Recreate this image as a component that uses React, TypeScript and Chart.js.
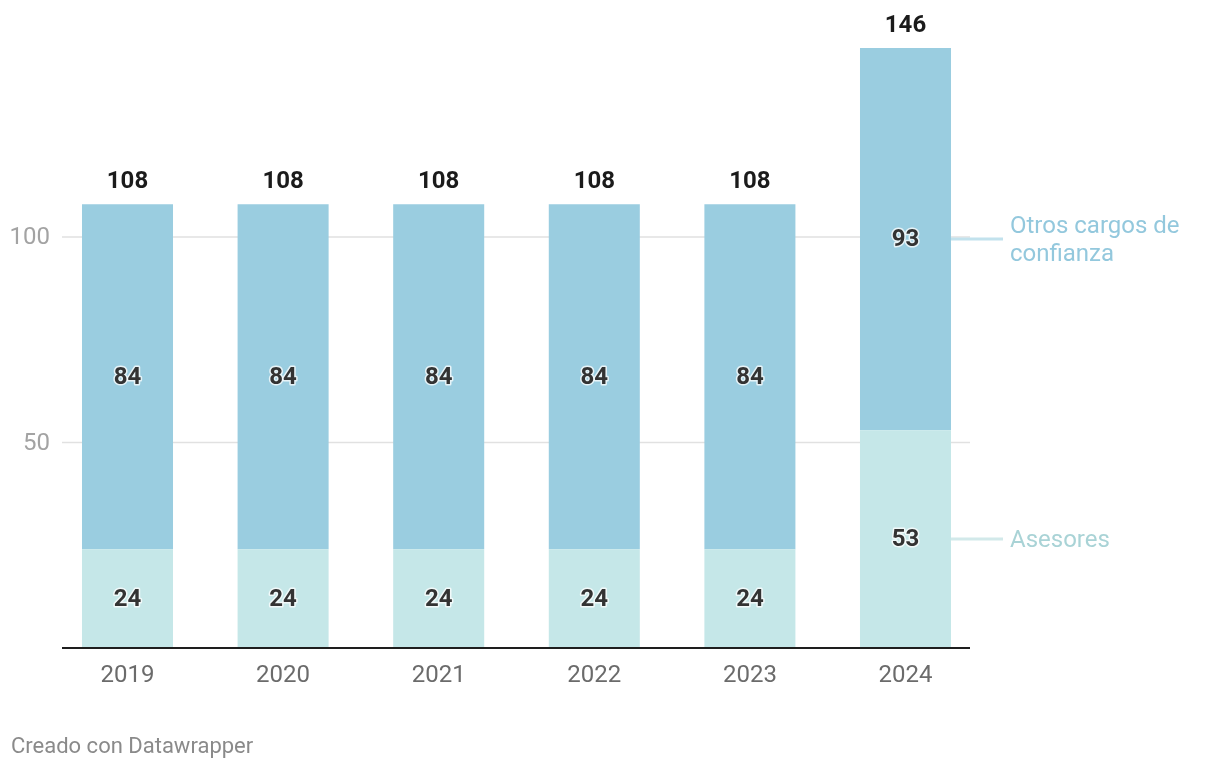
import React, { useEffect, useRef } from "react";
import { Chart, registerables } from "chart.js";
Chart.register(...registerables);

const years = ["2019", "2020", "2021", "2022", "2023", "2024"];
const asesores = [24, 24, 24, 24, 24, 53];
const otros = [84, 84, 84, 84, 84, 93];
const totals = [108, 108, 108, 108, 108, 146];
const yTicks = [50, 100];
const seriesNames = ["Asesores", "Otros cargos de confianza"];
const legendLines = [["Asesores"], ["Otros cargos de", "confianza"]];
const footer = "Creado con Datawrapper";

const COL_ASES = "#c5e7e8";
const COL_OTROS = "#9acde0";
const FONT = "Roboto, 'Noto Sans', sans-serif";

export default function App() {
  const ref = useRef<HTMLCanvasElement>(null);
  useEffect(() => {
    document.body.style.margin = "0";
    const AXIS_L = 62;
    const AXIS_R = 970;
    const plugin = {
      id: "dw",
      beforeDatasetsDraw(chart: any) {
        const ctx = chart.ctx;
        const y = chart.scales.y;
        ctx.save();
        ctx.strokeStyle = "#e1e1e1";
        ctx.lineWidth = 1.5;
        ctx.font = `24px ${FONT}`;
        ctx.fillStyle = "#a3a3a3";
        ctx.textAlign = "right";
        ctx.textBaseline = "middle";
        for (const t of yTicks) {
          const py = y.getPixelForValue(t);
          ctx.beginPath();
          ctx.moveTo(AXIS_L, py);
          ctx.lineTo(AXIS_R, py);
          ctx.stroke();
          ctx.fillText(String(t), 50, py + 1);
        }
        ctx.restore();
      },
      afterDatasetsDraw(chart: any) {
        const ctx = chart.ctx;
        const x = chart.scales.x;
        const y = chart.scales.y;
        ctx.save();
        // axis line
        const y0 = y.getPixelForValue(0);
        ctx.strokeStyle = "#1e1e1e";
        ctx.lineWidth = 2;
        ctx.beginPath();
        ctx.moveTo(AXIS_L, y0);
        ctx.lineTo(AXIS_R, y0);
        ctx.stroke();
        // x labels
        ctx.font = `24px ${FONT}`;
        ctx.fillStyle = "#6b6b6b";
        ctx.textAlign = "center";
        ctx.textBaseline = "middle";
        years.forEach((yr, i) => {
          ctx.fillText(yr, x.getPixelForValue(i), y0 + 28);
        });
        // segment labels
        ctx.font = `bold 24px ${FONT}`;
        const segs = [asesores, otros];
        segs.forEach((arr, si) => {
          arr.forEach((v, i) => {
            const base = si === 0 ? 0 : asesores[i];
            const py = y.getPixelForValue(base + v / 2);
            const px = x.getPixelForValue(i);
            ctx.lineJoin = "round";
            ctx.strokeStyle = "rgba(255,255,255,0.75)";
            ctx.lineWidth = 3;
            ctx.strokeText(String(v), px, py + 1);
            ctx.fillStyle = "#333333";
            ctx.fillText(String(v), px, py + 1);
          });
        });
        // totals
        ctx.fillStyle = "#1b1b1b";
        totals.forEach((t, i) => {
          const py = y.getPixelForValue(t);
          ctx.fillText(String(t), x.getPixelForValue(i), py - 22);
        });
        // legend labels on the right
        const last = years.length - 1;
        const meta = chart.getDatasetMeta(0).data[last];
        const barRight = meta.x + meta.width / 2;
        const legendCols = ["#d2e9ea", "#c2e2ed"];
        const textCols = ["#a9d3d6", "#93c8dd"];
        segs.forEach((arr, si) => {
          const base = si === 0 ? 0 : asesores[last];
          const py = y.getPixelForValue(base + arr[last] / 2);
          ctx.strokeStyle = legendCols[si];
          ctx.lineWidth = 3;
          ctx.beginPath();
          ctx.moveTo(barRight, py);
          ctx.lineTo(1003, py);
          ctx.stroke();
          ctx.font = `24px ${FONT}`;
          ctx.fillStyle = textCols[si];
          ctx.textAlign = "left";
          const lines = legendLines[si];
          const lh = 28;
          lines.forEach((ln, li) => {
            ctx.fillText(ln, 1010, py + 2 + (li - (lines.length - 1) / 2) * lh);
          });
        });
        // footer
        ctx.font = `22px ${FONT}`;
        ctx.fillStyle = "#8a8a8a";
        ctx.textAlign = "left";
        ctx.fillText(footer, 11, 747);
        ctx.restore();
      },
    };
    const chart = new Chart(ref.current!, {
      type: "bar",
      data: {
        labels: years,
        datasets: [
          { label: seriesNames[0], data: asesores, backgroundColor: COL_ASES, barPercentage: 0.585, categoryPercentage: 1 },
          { label: seriesNames[1], data: otros, backgroundColor: COL_OTROS, barPercentage: 0.585, categoryPercentage: 1 },
        ],
      },
      options: {
        animation: false,
        responsive: false,
        layout: { padding: { left: 49.7, right: 236.7, top: 48, bottom: 122 } },
        plugins: { legend: { display: false }, tooltip: { enabled: false } },
        scales: {
          x: { stacked: true, display: false, offset: true },
          y: { stacked: true, display: false, min: 0, max: 146 },
        },
      },
      plugins: [plugin],
    });
    return () => chart.destroy();
  }, []);
  return <canvas ref={ref} width={1220} height={770} style={{ display: "block", width: 1220, height: 770 }} />;
}
